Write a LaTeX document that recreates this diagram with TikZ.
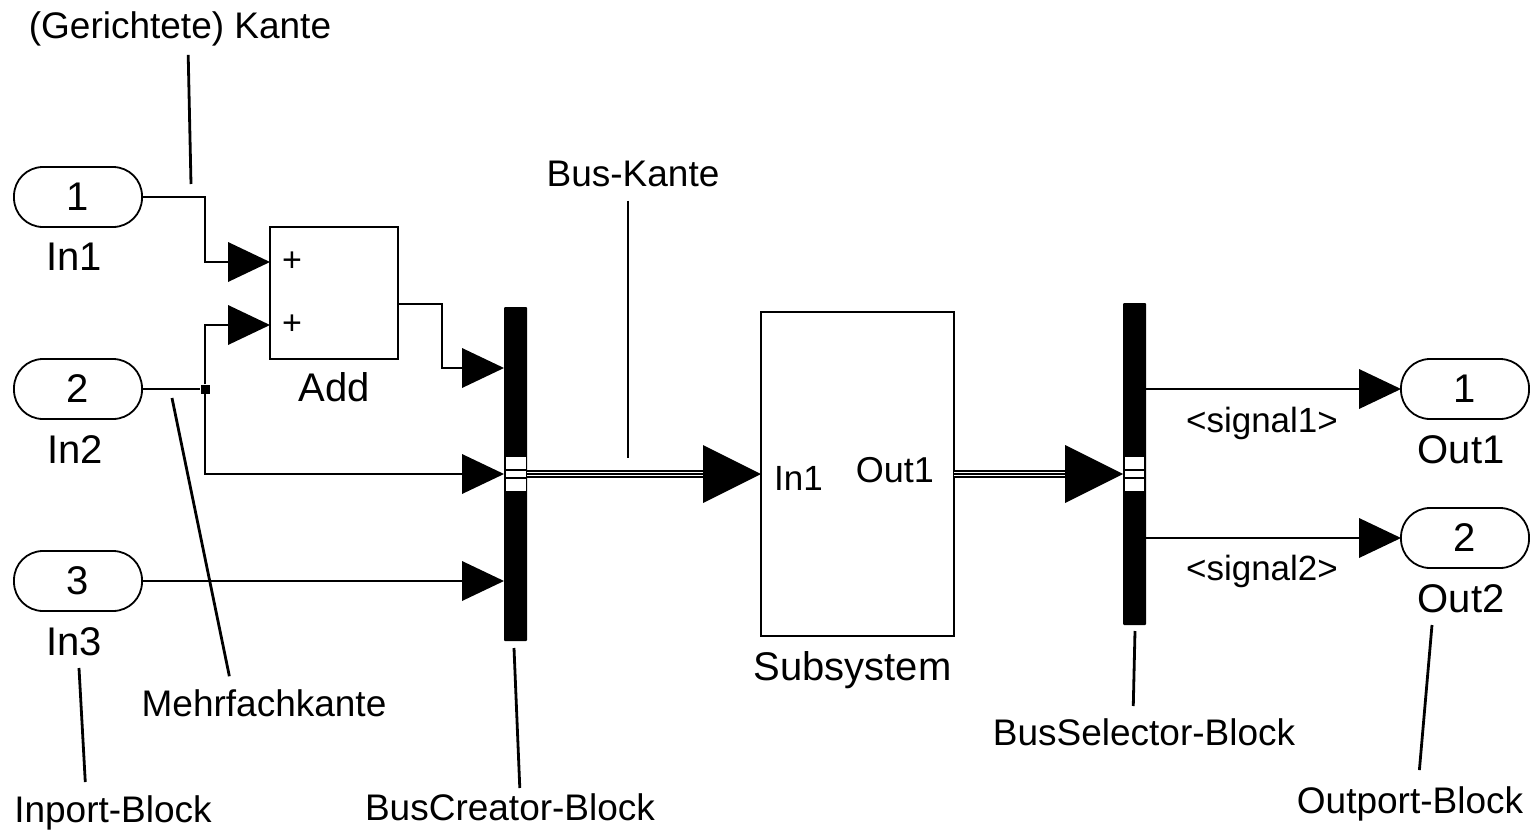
\documentclass[tikz,border=0pt]{standalone}
\usepackage{fontspec}
\setmainfont{Liberation Sans}
\usepackage{tikz}
\usetikzlibrary{
  arrows.meta,
  positioning
}
\newcommand{\fsz}[1]{\fontsize{#1}{#1}\selectfont}

\begin{document}
\begin{tikzpicture}[
    x=1pt, y=-1pt,
    >={Triangle[length=42pt, width=40pt, line width=0pt]},
    port/.style={draw, line width=1.8pt, rounded corners=29pt, minimum width=128pt,
                 minimum height=60pt, inner sep=0pt, outer sep=0pt, font=\fsz{40}},
    blk/.style={draw, line width=1.8pt, inner sep=0pt, outer sep=0pt},
    busbar/.style={fill=black, minimum width=23pt, inner sep=0pt, outer sep=0pt, rounded corners=1pt},
    busport/.style={fill=white, minimum width=20pt, minimum height=34pt, inner sep=0pt, outer sep=0pt},
    blklabel/.style={inner sep=0pt, font=\fsz{40}},
    note/.style={inner sep=0pt, anchor=base, font=\fsz{37}},
    sig/.style={line width=1.8pt, ->},
    wire/.style={line width=1.8pt},
    bus/.style={line width=7.5pt, -{Triangle[length=58pt, width=58pt, line width=0pt]},
                postaction={draw=white, line width=4.5pt, -, shorten >=58.5pt},
                postaction={draw=black, line width=1.5pt, -, shorten >=58.5pt}},
    leader/.style={line width=2.8pt}
  ]
  \useasboundingbox (0,0) rectangle (1534,830);

  %% --- Inports ---
  \node[port] (in1) at (78,197) {1};
  \node[port] (in2) at (78,389) {2};
  \node[port] (in3) at (78,581) {3};
  \node[blklabel, below=16pt of in1, xshift=-4pt] (in1lbl) {In1};
  \node[blklabel, below=16pt of in2, xshift=-3pt] (in2lbl) {In2};
  \node[blklabel, below=16pt of in3, xshift=-4pt] (in3lbl) {In3};

  %% --- Add block ---
  \node[blk, minimum width=128pt, minimum height=132pt] (add) at (334,293) {};
  \node[inner sep=0pt, font=\fsz{34}] (plus1) at ([xshift=22pt, yshift=31pt]add.west) {+};
  \node[inner sep=0pt, font=\fsz{34}] (plus2) at ([xshift=22pt, yshift=-32pt]add.west) {+};
  \node[blklabel, below=13pt of add] (addlbl) {Add};

  %% --- Bus blocks and subsystem ---
  \node[busbar, minimum height=334pt] (bc) at (515.5,474) {};
  \node[busport] (bcport) at (bc.center) {};
  \draw[line width=1.2pt] ([yshift=4pt]bcport.west) -- ([yshift=4pt]bcport.east);
  \draw[line width=1.2pt] ([yshift=-4pt]bcport.west) -- ([yshift=-4pt]bcport.east);

  \node[blk, minimum width=193pt, minimum height=324pt] (sub) at (857.5,474) {};
  \node[inner sep=0pt, anchor=base west, font=\fsz{35}] (subin) at ([xshift=13pt, yshift=-16pt]sub.west) {In1};
  \node[inner sep=0pt, anchor=base east, font=\fsz{36}] (subout) at ([xshift=-20pt, yshift=-8pt]sub.east) {Out1};
  \node[blklabel, below=15pt of sub, xshift=-5pt] (sublbl) {Subsystem};

  \node[busbar, minimum height=322pt] (bs) at (1134.5,464) {};
  \node[busport, minimum width=19pt] (bsport) at (bs.center |- sub.east) {};
  \draw[line width=1.2pt] ([yshift=4pt]bsport.west) -- ([yshift=4pt]bsport.east);
  \draw[line width=1.2pt] ([yshift=-4pt]bsport.west) -- ([yshift=-4pt]bsport.east);

  %% --- Outports ---
  \node[port] (out1) at (1465,389) {1};
  \node[port] (out2) at (1465,538) {2};
  \node[blklabel, below=16pt of out1, xshift=-4pt] (out1lbl) {Out1};
  \node[blklabel, below=16pt of out2, xshift=-4pt] (out2lbl) {Out2};

  %% --- Signals ---
  \node[fill, minimum size=9pt, inner sep=0pt] (jn) at (205,389) {};
  \draw[sig] (in1.east) -- ++(63,0) |- ([yshift=31pt]add.west);
  \draw[wire] (in2.east) -- (jn);
  \draw[sig] (jn) |- ([yshift=-32pt]add.west);
  \draw[sig] (jn) |- (bc.west);
  \draw[sig] ([yshift=-11pt]add.east) -- ++(44,0) |- ([yshift=106pt]bc.west);
  \draw[sig] (in3.east) -- (in3.east -| bc.west);
  \draw[bus] (bc.east) -- (sub.west);
  \draw[bus] (sub.east) -- (sub.east -| bs.west);
  \draw[sig] (bs.east |- out1.west) -- (out1.west);
  \draw[sig] (bs.east |- out2.west) -- (out2.west);
  \node[inner sep=0pt, anchor=base, font=\fsz{35}] (sig1) at (1262,432) {<signal1>};
  \node[inner sep=0pt, anchor=base, font=\fsz{35}] (sig2) at (1262,580) {<signal2>};

  %% --- Annotations ---
  \node[note] (kantelbl) at (180,38) {(Gerichtete) Kante};
  \node[note] (buslbl) at (633,186) {Bus-Kante};
  \node[note] (mehrlbl) at (264,716) {Mehrfachkante};
  \node[note] (inportlbl) at (113,822) {Inport-Block};
  \node[note] (bclbl) at (510,820) {BusCreator-Block};
  \node[note] (bslbl) at (1144,745) {BusSelector-Block};
  \node[note] (outportlbl) at (1410,813) {Outport-Block};

  \coordinate (kanteEnd) at (191,184);
  \coordinate (busEnd) at (628,458);
  \coordinate (mehrEnd) at (172,398);
  \coordinate (inportEnd) at (79,668);
  \coordinate (bcEnd) at (514,648);
  \coordinate (bsEnd) at (1135,631);
  \coordinate (outportEnd) at (1432,625);

  \draw[leader, shorten <=9pt] ([xshift=8pt]kantelbl.south) -- (kanteEnd);
  \draw[leader, shorten <=14pt] (buslbl.south -| busEnd) -- (busEnd);
  \draw[leader, shorten <=13pt] ([xshift=-32pt]mehrlbl.north) -- (mehrEnd);
  \draw[leader, shorten <=13pt] ([xshift=-27pt]inportlbl.north) -- (inportEnd);
  \draw[leader, shorten <=5pt] ([xshift=10pt]bclbl.north) -- (bcEnd);
  \draw[leader, shorten <=12pt] ([xshift=-11pt]bslbl.north) -- (bsEnd);
  \draw[leader, shorten <=16pt] ([xshift=8pt]outportlbl.north) -- (outportEnd);
\end{tikzpicture}
\end{document}
